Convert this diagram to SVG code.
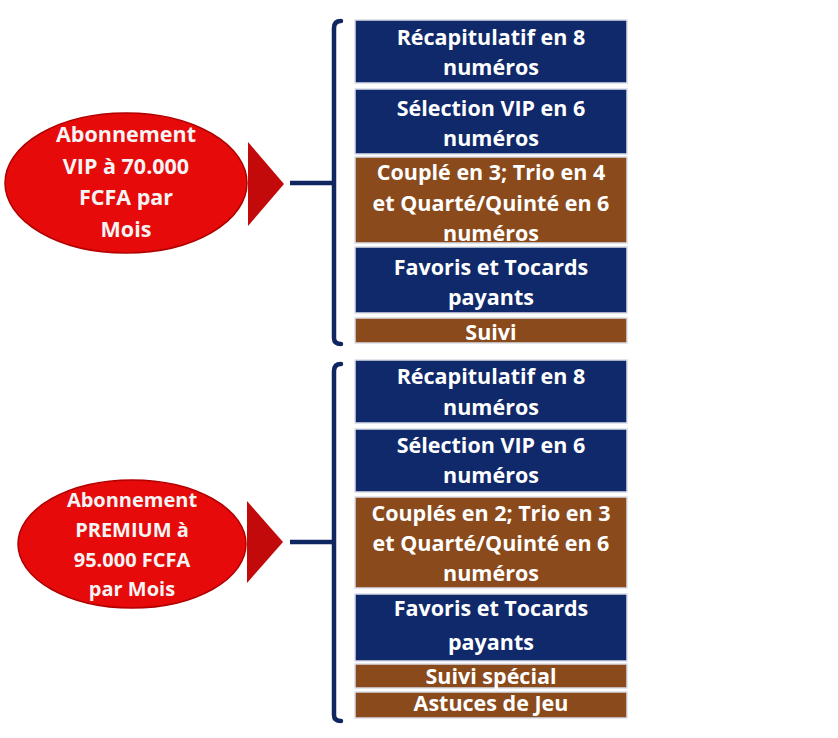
<svg xmlns="http://www.w3.org/2000/svg" width="838" height="738" viewBox="0 0 838 738">
<defs>
<style>
.box{stroke:#d9dde6;stroke-width:1.5}
.navy{fill:#10296b}
.brown{fill:#8a4a1c}
.t{font-family:"Open Sans",Lato,sans-serif;font-weight:bold;font-size:21.5px;fill:#ffffff;text-anchor:middle}
.et{font-family:"Open Sans",Lato,sans-serif;font-weight:bold;font-size:21.5px;fill:#f4f4f4;text-anchor:middle}
.et2{font-family:"Open Sans",Lato,sans-serif;font-weight:bold;font-size:20px;fill:#f4f4f4;text-anchor:middle}
.ell{fill:#e60a0a;stroke:#b00000;stroke-width:1.5}
.tri{fill:#c20a0a}
.ln{fill:none;stroke:#0f2660;stroke-width:4.5;stroke-linecap:round}
</style>
</defs>
<rect width="838" height="738" fill="#ffffff"/>
<g id="connectors">
<path class="ln" d="M341,21 Q334,21 334,28 L334,338 Q334,344 341,344"/>
<line class="ln" x1="290" y1="183" x2="334" y2="183" style="stroke-linecap:butt"/>
<path class="ln" d="M341,364 Q334,364 334,371 L334,715 Q334,721 341,721"/>
<line class="ln" x1="290" y1="542" x2="334" y2="542" style="stroke-linecap:butt"/>
</g>
<g id="vip">
<ellipse class="ell" cx="126" cy="183" rx="121" ry="70"/>
<text class="et" x="126" y="142">Abonnement</text>
<text class="et" x="126" y="174">VIP à 70.000</text>
<text class="et" x="126" y="205">FCFA par</text>
<text class="et" x="126" y="237">Mois</text>
</g>
<g id="vip-arrow"><polygon class="tri" points="248,142 284,184 248,226"/></g>
<g id="premium">
<ellipse class="ell" cx="132" cy="544" rx="114" ry="64"/>
<text class="et2" x="132" y="507">Abonnement</text>
<text class="et2" x="132" y="537">PREMIUM à</text>
<text class="et2" x="132" y="567">95.000 FCFA</text>
<text class="et2" x="132" y="596">par Mois</text>
</g>
<g id="premium-arrow"><polygon class="tri" points="247,501 283,542 247,583"/></g>
<g id="v1"><rect class="box navy" x="355" y="20" width="272" height="63"/>
<text class="t" x="491" y="45">Récapitulatif en 8</text><text class="t" x="491" y="75">numéros</text></g>
<g id="v2"><rect class="box navy" x="355" y="89" width="272" height="65"/>
<text class="t" x="491" y="116">Sélection VIP en 6</text><text class="t" x="491" y="146">numéros</text></g>
<g id="v3"><rect class="box brown" x="355" y="157" width="272" height="86"/>
<text class="t" x="491" y="180">Couplé en 3; Trio en 4</text><text class="t" x="491" y="211">et Quarté/Quinté en 6</text><text class="t" x="491" y="241">numéros</text></g>
<g id="v4"><rect class="box navy" x="355" y="247" width="272" height="66"/>
<text class="t" x="491" y="275">Favoris et Tocards</text><text class="t" x="491" y="305">payants</text></g>
<g id="v5"><rect class="box brown" x="355" y="318" width="272" height="25"/>
<text class="t" x="491" y="340">Suivi</text></g>
<g id="p1"><rect class="box navy" x="355" y="360" width="272" height="63"/>
<text class="t" x="491" y="384">Récapitulatif en 8</text><text class="t" x="491" y="415">numéros</text></g>
<g id="p2"><rect class="box navy" x="355" y="429" width="272" height="63"/>
<text class="t" x="491" y="453">Sélection VIP en 6</text><text class="t" x="491" y="483">numéros</text></g>
<g id="p3"><rect class="box brown" x="355" y="497" width="272" height="91"/>
<text class="t" x="491" y="521">Couplés en 2; Trio en 3</text><text class="t" x="491" y="551">et Quarté/Quinté en 6</text><text class="t" x="491" y="581">numéros</text></g>
<g id="p4"><rect class="box navy" x="355" y="594" width="272" height="67"/>
<text class="t" x="491" y="616">Favoris et Tocards</text><text class="t" x="491" y="650">payants</text></g>
<g id="p5"><rect class="box brown" x="355" y="664" width="272" height="24"/>
<text class="t" x="491" y="684">Suivi spécial</text></g>
<g id="p6"><rect class="box brown" x="355" y="692" width="272" height="26"/>
<text class="t" x="491" y="711">Astuces de Jeu</text></g>
</svg>
